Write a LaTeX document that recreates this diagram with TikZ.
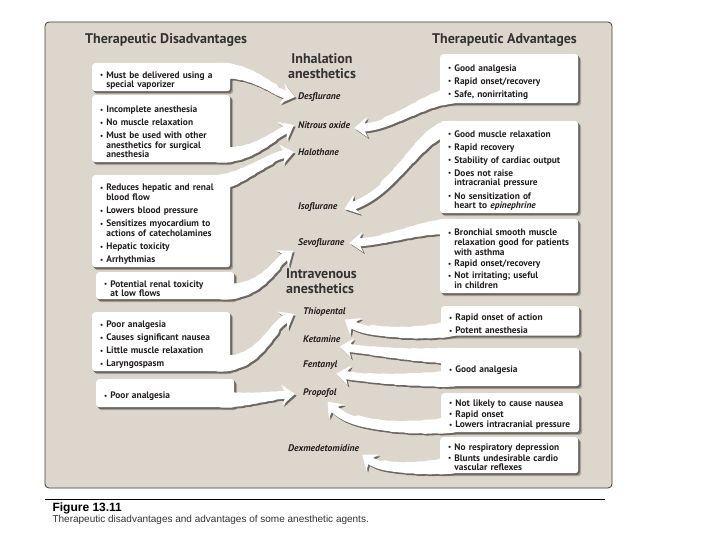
\documentclass[tikz,border=0pt]{standalone}
\usepackage{fontspec}
\setmainfont{PT Sans}
\newfontfamily\capfont{Liberation Sans}
\usetikzlibrary{arrows.meta,calc}
\pgfdeclarelayer{bg}\pgfdeclarelayer{shade}\pgfdeclarelayer{arrows}
\pgfsetlayers{bg,shade,arrows,main}
\definecolor{panel}{RGB}{221,214,204}
\definecolor{ink}{RGB}{35,31,32}
\definecolor{swshade}{RGB}{108,103,98}
\definecolor{softshade}{RGB}{170,164,157}
\newcommand\boxfont{\fontsize{9.4}{9.6}\selectfont\bfseries}
\newcommand\labfont{\fontsize{9.6}{11}\selectfont\bfseries\itshape}
\newcommand\hdrfont{\fontsize{14}{15}\selectfont\bfseries}
\newcommand\bi{\par\hangindent=6.2pt\hangafter=1\noindent\makebox[6.2pt][l]{\raisebox{0.4pt}{\fontsize{7}{7}\selectfont\textbullet}}}
\tikzset{
  infobox/.style={fill=white, rounded corners=3pt, anchor=north west, inner xsep=8pt, inner ysep=1.5pt,
    text width=122pt, align=left, font=\boxfont, text=ink},
  wide/.style={execute at begin node={\setlength{\parskip}{3.5pt}}},
  mid/.style={execute at begin node={\setlength{\parskip}{2.2pt}}},
  tight/.style={execute at begin node={\setlength{\parskip}{1.2pt}}},
  lab/.style={anchor=west, inner sep=1pt, font=\labfont, text=ink},
  hdr/.style={font=\hdrfont, text=black!80, inner sep=1pt},
  swline/.style={draw=white, line cap=round},
  swshline/.style={draw=swshade, line cap=round, transform canvas={shift={(1.6pt,-1.8pt)}}},
  swtip/.style={-{Stealth[length=13pt,width=20pt,inset=4pt]}, line cap=butt}
}
% part of the Bezier (sw0)(sw1)(sw2)(sw3) from 0 to #1
\newcommand\partcurve[2]{%
  \coordinate (pA) at ($(sw0)!#1!(sw1)$);
  \coordinate (pB) at ($(sw1)!#1!(sw2)$);
  \coordinate (pC) at ($(sw2)!#1!(sw3)$);
  \coordinate (pD) at ($(pA)!#1!(pB)$);
  \coordinate (pE) at ($(pB)!#1!(pC)$);
  \coordinate (pF) at ($(pD)!#1!(pE)$);
  \draw[#2] (sw0) .. controls (pA) and (pD) .. (pF);}
\newcommand\taper[1]{%
  \foreach \tt/\ww in {0.12/15.5,0.24/14,0.36/12.6,0.48/11.3,0.6/10.2,0.72/9.2}{\partcurve{\tt}{#1, line width=\ww pt}}}
\newcommand\swoosh[4]{%
  \coordinate (sw0) at #1; \coordinate (sw1) at #2; \coordinate (sw2) at #3; \coordinate (sw3) at #4;
  \begin{pgfonlayer}{shade}
    \taper{swshline}
    \draw[swshline, swtip, line width=8pt] (sw0) .. controls (sw1) and (sw2) .. (sw3);
  \end{pgfonlayer}
  \begin{pgfonlayer}{arrows}
    \taper{swline}
    \draw[swline, swtip, line width=8pt] (sw0) .. controls (sw1) and (sw2) .. (sw3);
  \end{pgfonlayer}}
\begin{document}
\begin{tikzpicture}[x=1pt,y=-1pt]
\useasboundingbox (0,0) rectangle (720,540);
\begin{pgfonlayer}{bg}
\fill[white] (0,0) rectangle (720,540);
\draw[fill=panel, draw=black!75, line width=0.8pt, rounded corners=4pt] (45,22) rectangle (612,488);
\end{pgfonlayer}

% headers
\node[hdr, anchor=west] (hdis) at (84,40) {Therapeutic Disadvantages};
\node[hdr, anchor=west] (hadv) at (431,40) {Therapeutic Advantages};
\node[hdr, align=center] (inh) at (322,66) {Inhalation\\anesthetics};
\node[hdr, align=left, anchor=north west] (iv) at (285,267) {Intravenous\\anesthetics};

% drug labels
\node[lab] (desf) at (297,97) {Desflurane};
\node[lab] (nitr) at (297,125) {Nitrous oxide};
\node[lab] (halo) at (297,152) {Halothane};
\node[lab] (isof) at (297,207) {Isoflurane};
\node[lab] (sevo) at (297,243) {Sevoflurane};
\node[lab] (thio) at (302,312) {Thiopental};
\node[lab] (keta) at (302,339) {Ketamine};
\node[lab] (fent) at (302,365) {Fentanyl};
\node[lab] (prop) at (302,393) {Propofol};
\node[lab] (dexm) at (287,448) {Dexmedetomidine};

% disadvantage boxes
\node[infobox, wide, minimum height=28pt] (L1) at (92,63) {\bi Must be delivered using a\newline special vaporizer\par};
\node[infobox, wide, minimum height=67pt] (L2) at (92,95) {\bi Incomplete anesthesia\bi No muscle relaxation\bi Must be used with other\newline anesthetics for surgical\newline anesthesia\par};
\node[infobox, wide, minimum height=92pt] (L3) at (92,175) {\bi Reduces hepatic and renal\newline blood flow\bi Lowers blood pressure\bi Sensitizes myocardium to\newline actions of catecholamines\bi Hepatic toxicity\bi Arrhythmias\par};
\node[infobox, wide, minimum height=27pt] (L4) at (96,272) {\bi Potential renal toxicity\newline at low flows\par};
\node[infobox, wide, minimum height=59pt] (L5) at (92,312) {\bi Poor analgesia\bi Causes significant nausea\bi Little muscle relaxation\bi Laryngospasm\par};
\node[infobox, wide, minimum height=28pt] (L6) at (96,379) {\bi Poor analgesia\par};

% advantage boxes
\node[infobox, wide, minimum height=49pt] (R1) at (440,54) {\bi Good analgesia\bi Rapid onset/recovery\bi Safe, nonirritating\par};
\node[infobox, wide, minimum height=92pt] (R2) at (440,121) {\bi Good muscle relaxation\bi Rapid recovery\bi Stability of cardiac output\bi Does not raise\newline intracranial pressure\bi No sensitization of\newline heart to \textit{epinephrine}\par};
\node[infobox, mid, minimum height=74pt] (R3) at (440,219) {\bi Bronchial smooth muscle\newline relaxation good for patients\newline with asthma\bi Rapid onset/recovery\bi Not irritating; useful\newline in children\par};
\node[infobox, wide, minimum height=27pt] (R4) at (441,306) {\bi Rapid onset of action\bi Potent anesthesia\par};
\node[infobox, wide, minimum height=38pt] (R5) at (441,348) {\bi Good analgesia\par};
\node[infobox, tight, minimum height=39pt] (R6) at (441,393) {\bi Not likely to cause nausea\bi Rapid onset\bi Lowers intracranial pressure\par};
\node[infobox, tight, minimum height=36pt] (R7) at (440,437) {\bi No respiratory depression\bi Blunts undesirable cardio\newline vascular reflexes\par};

% box shadows
\begin{pgfonlayer}{shade}
\foreach \b in {L1,L2,L3,L4,L5,L6,R1,R2,R3,R4,R5,R6,R7}{
  \fill[softshade, rounded corners=3pt, transform canvas={shift={(2.6pt,-2.8pt)}}] (\b.north west) rectangle (\b.south east);
  \fill[swshade, rounded corners=3pt, transform canvas={shift={(1.4pt,-1.6pt)}}] (\b.north west) rectangle (\b.south east);}
\end{pgfonlayer}

% arrows from disadvantages
\swoosh{($(L1.north east)+(-12,7.5)$)}{(255,70)}{(268,90)}{($(desf.west)+(-2,0)$)}
\swoosh{($(L2.south east)+(-12,-7.5)$)}{(252,156)}{(266,140)}{($(nitr.west)+(-3,0)$)}
\swoosh{($(L3.north east)+(-14,8)$)}{(242,180)}{(264,158)}{($(halo.west)+(-3,0)$)}
\swoosh{($(L4.south east)+(-12,-7.5)$)}{(262,292)}{(270,268)}{($(sevo.south west)+(-4,2)$)}
\swoosh{($(L5.south east)+(-12,-7.5)$)}{(262,364)}{(266,330)}{($(thio.west)+(-8,2)$)}
\swoosh{($(L6.south east)+(-12,-7.5)$)}{(250,400)}{(266,396)}{($(prop.west)+(-7,1)$)}

% arrows from advantages
\swoosh{($(R1.south west)+(12,-7.5)$)}{(425,98)}{(395,126)}{($(nitr.east)+(3,3)$)}
\swoosh{($(R2.north west)+(12,7.5)$)}{(420,128)}{(402,188)}{($(isof.east)+(6,2)$)}
\swoosh{($(R3.north west)+(12,7.5)$)}{(420,226)}{(395,240)}{($(sevo.east)+(4,0)$)}
\swoosh{($(R4.south west)+(12,-7.5)$)}{(425,334)}{(370,336)}{($(thio.south east)+(-2,2)$)}
\swoosh{($(R5.north west)+(12,7.5)$)}{(415,356)}{(380,352)}{($(keta.south east)+(-2,3)$)}
\swoosh{($(R5.south west)+(12,-7.5)$)}{(410,380)}{(375,380)}{($(fent.south east)+(-2,3)$)}
\swoosh{($(R6.south west)+(12,-7.5)$)}{(420,428)}{(355,432)}{($(prop.south east)+(-10,3)$)}
\swoosh{($(R7.south west)+(12,-7.5)$)}{(420,468)}{(385,472)}{($(dexm.south east)+(2,2)$)}

% caption
\draw[line width=0.7pt] (45,499) -- (605,499);
\node[anchor=west, font=\capfont\bfseries\fontsize{12}{14}\selectfont] (figno) at (49,508) {Figure 13.11};
\node[anchor=west, font=\capfont\fontsize{10}{12}\selectfont, text=black!80] (cap) at (49,520) {Therapeutic disadvantages and advantages of some anesthetic agents.};
\end{tikzpicture}
\end{document}
